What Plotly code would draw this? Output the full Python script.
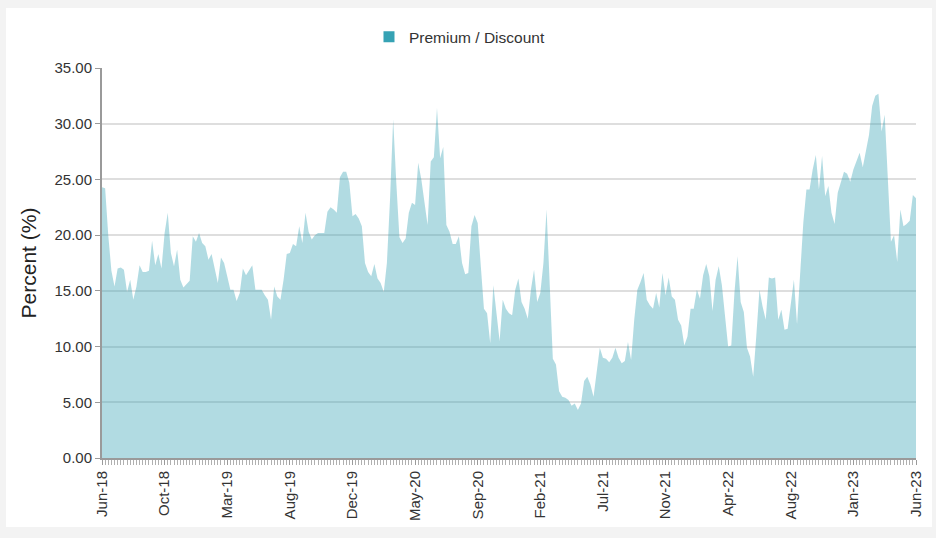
import pandas as pd
import plotly.graph_objects as go

# weekly premium / discount readings, Jun-18 .. Jun-23
start_date = '2018-06-08'
premium_2018 = [24.3, 24.2, 20.0, 16.8, 15.4, 17.0, 17.1, 16.9, 14.9, 16.0,
                14.2, 15.4, 17.3, 16.7, 16.7, 16.8, 19.5, 17.3, 18.3, 17.0,
                20.2, 22.0, 18.4, 17.2, 18.7, 16.0, 15.3, 15.6, 15.9, 19.9]
premium_2019 = [19.4, 20.2, 19.3, 19.0, 17.8, 18.3, 17.0, 15.7, 18.0, 17.5,
                16.3, 15.1, 15.1, 14.1, 14.8, 17.0, 16.4, 16.8, 17.3, 15.1,
                15.1, 15.1, 14.6, 14.2, 12.4, 15.4, 14.5, 14.2, 16.0, 18.3,
                18.4, 19.2, 19.0, 20.8, 19.3, 22.0, 20.3, 19.6, 20.0, 20.2,
                20.2, 20.2, 22.1, 22.5, 22.3, 22.0, 25.2, 25.7, 25.7, 24.7,
                21.7, 21.9, 21.5, 20.8, 17.5, 16.7, 16.3, 17.4, 16.1, 15.7]
premium_2020 = [14.9, 17.5, 23.2, 30.4, 24.7, 19.8, 19.3, 19.7, 22.0, 22.9,
                22.7, 26.5, 25.0, 22.9, 20.9, 26.6, 27.0, 31.4, 26.9, 27.9,
                20.9, 20.3, 19.2, 19.2, 19.9, 17.5, 16.5, 16.6, 20.8, 21.8,
                21.1, 17.2, 13.4, 13.0, 10.3, 15.5, 13.0, 10.5, 14.2, 13.4,
                13.0, 12.8, 15.1, 16.1, 14.0, 13.4, 12.5, 15.1, 16.9, 14.0,
                14.8, 17.5, 22.3, 15.4, 8.9, 8.4, 6.0, 5.5, 5.4, 5.2]
premium_2021 = [4.7, 4.9, 4.3, 4.9, 6.9, 7.3, 6.6, 5.5, 7.9, 9.9,
                9.0, 8.9, 8.6, 9.0, 9.9, 9.0, 8.5, 8.7, 10.4, 8.8,
                12.4, 15.1, 15.8, 16.6, 14.2, 13.7, 13.4, 14.8, 13.5, 16.6,
                14.6, 16.2, 14.5, 14.2, 12.4, 11.9, 10.1, 10.9, 13.4, 13.4,
                15.1, 14.3, 16.4, 17.4, 16.3, 13.2, 16.0, 17.2, 15.5, 12.7,
                10.0, 10.1, 14.8, 18.1, 14.0, 13.1, 9.9, 9.1, 7.3, 11.0]
premium_2022 = [15.1, 13.6, 12.4, 16.2, 16.1, 16.2, 12.4, 13.3, 11.5, 11.6,
                13.9, 16.0, 12.0, 16.9, 21.1, 24.1, 24.1, 25.9, 27.2, 24.1,
                27.1, 23.5, 24.4, 22.0, 21.0, 23.8, 24.8, 25.7, 25.5, 24.8,
                25.9, 26.6, 27.4, 26.1, 27.7, 29.0, 31.6, 32.5, 32.7, 29.3,
                30.8, 25.0, 19.4, 20.0, 17.6, 22.3, 20.8, 21.0, 21.3, 23.6,
                23.3]

premium = premium_2018 + premium_2019 + premium_2020 + premium_2021 + premium_2022
weeks = pd.date_range(start_date, periods=len(premium), freq='7D')
label_weeks = weeks[::20]
label_text = [d.strftime('%b-%y') for d in label_weeks]

teal = 'rgb(54,162,180)'

fig = go.Figure()
fig.add_trace(go.Scatter(x=weeks, y=premium, mode='lines', line=dict(width=0, color=teal),
                         fill='tozeroy', fillcolor='rgba(54,162,180,0.39)',
                         name='Premium / Discount', showlegend=False,
                         hovertemplate='%{x|%d-%b-%y}: %{y:.2f}%<extra></extra>'))
# legend entry shown as a solid square
fig.add_trace(go.Scatter(x=[None], y=[None], mode='markers', name='Premium / Discount',
                         marker=dict(symbol='square', size=11, color=teal)))

# white card on grey page
fig.add_shape(type='rect', xref='paper', yref='paper', x0=-0.118, x1=1.0197, y0=-0.177, y1=1.154,
              fillcolor='white', line=dict(width=0), layer='below')

fig.update_layout(
    width=936, height=538,
    margin=dict(l=102, r=20, t=68, b=80),
    paper_bgcolor='#f3f3f3',
    plot_bgcolor='rgba(0,0,0,0)',
    font=dict(family='Liberation Sans, Arial, sans-serif', color='#333333', size=15),
    legend=dict(orientation='h', x=0.328, y=1.079, xanchor='left', yanchor='middle',
                itemwidth=30, font=dict(size=15.5, color='#333333'), bgcolor='rgba(0,0,0,0)'),
    showlegend=True,
)
fig.update_yaxes(range=[0, 35], dtick=5, tickformat='.2f', showgrid=True, gridcolor='#dedede',
                 gridwidth=1.5, zeroline=False, showline=True, linecolor='#9a9a9a', linewidth=2,
                 ticks='outside', ticklen=5, tickcolor='#9a9a9a',
                 title=dict(text='Percent (%)', font=dict(size=21, color='#222222'), standoff=12))
fig.update_xaxes(type='date', range=[weeks[0], weeks[-1]], tickmode='array', tickvals=label_weeks,
                 ticktext=label_text, tickangle=-90, showgrid=False, zeroline=False,
                 showline=True, linecolor='#9a9a9a', linewidth=2,
                 ticks='outside', ticklen=5, tickcolor='#9a9a9a',
                 minor=dict(ticks='outside', ticklen=5, tickcolor='#b0b0b0', tickwidth=1,
                            dtick=7 * 86400000, tick0=weeks[0], showgrid=False))

fig.write_html("out.html", config={'displayModeBar': False},
               post_script="document.body.style.margin='0';document.body.style.background='#f3f3f3';")
